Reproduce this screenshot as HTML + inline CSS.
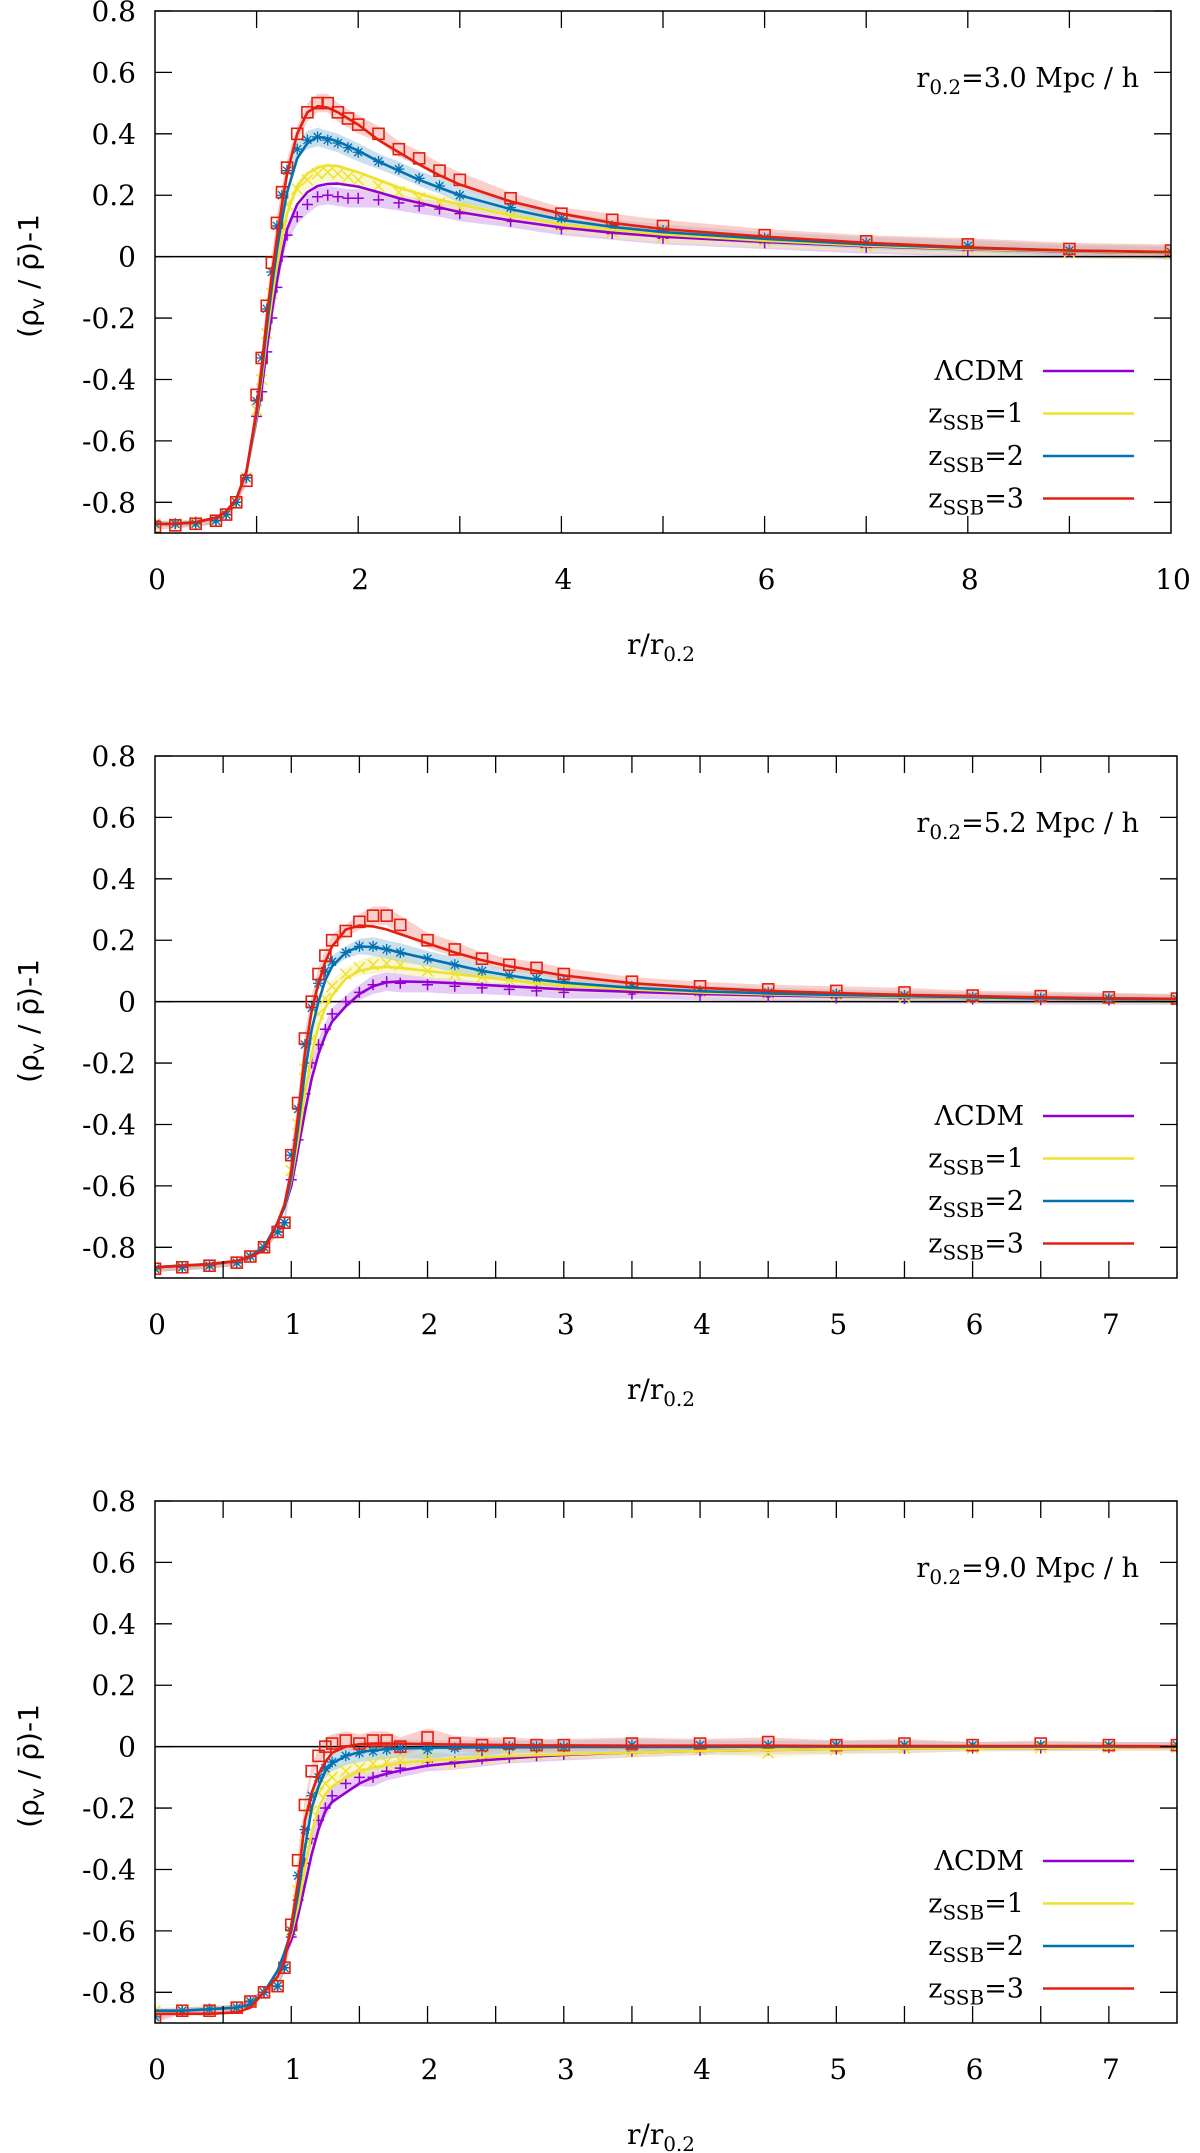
<!DOCTYPE html>
<html><head><meta charset="utf-8"><style>
html,body{margin:0;padding:0;background:#fff;}
svg{display:block;}
</style></head><body>
<svg id="chart" width="1200" height="2153" viewBox="0 0 1200 2153" xmlns="http://www.w3.org/2000/svg"></svg>
<script>
// ---------- data ----------
const xGrid1 = [0,0.2,0.4,0.6,0.7,0.8,0.9,1.0,1.05,1.1,1.15,1.2,1.25,1.3,1.4,1.5,1.6,1.7,1.8,1.9,2.0,2.2,2.4,2.6,2.8,3.0,3.5,4.0,4.5,5,6,7,8,9,10];
const p1LineLCDM = [-0.87,-0.87,-0.865,-0.85,-0.83,-0.79,-0.7,-0.53,-0.43,-0.3,-0.18,-0.08,0.01,0.09,0.17,0.21,0.23,0.237,0.238,0.233,0.228,0.21,0.19,0.175,0.16,0.145,0.118,0.095,0.078,0.065,0.048,0.034,0.024,0.017,0.012];
const p1LineZ1 = [-0.87,-0.87,-0.865,-0.85,-0.83,-0.79,-0.7,-0.52,-0.4,-0.26,-0.14,-0.03,0.06,0.14,0.23,0.27,0.29,0.297,0.295,0.285,0.275,0.25,0.225,0.205,0.185,0.17,0.135,0.105,0.087,0.072,0.052,0.036,0.025,0.018,0.012];
const p1LineZ2 = [-0.87,-0.87,-0.865,-0.85,-0.83,-0.79,-0.7,-0.51,-0.38,-0.23,-0.1,0.02,0.12,0.21,0.32,0.37,0.39,0.385,0.375,0.36,0.345,0.31,0.28,0.25,0.225,0.2,0.155,0.12,0.097,0.08,0.058,0.04,0.028,0.02,0.014];
const p1LineZ3 = [-0.87,-0.87,-0.865,-0.85,-0.83,-0.79,-0.7,-0.5,-0.36,-0.2,-0.06,0.06,0.17,0.27,0.4,0.47,0.49,0.485,0.47,0.45,0.43,0.38,0.34,0.3,0.265,0.235,0.18,0.14,0.11,0.09,0.065,0.045,0.03,0.02,0.015];
const p1PtsLCDM = [-0.87,-0.87,-0.865,-0.86,-0.84,-0.8,-0.72,-0.52,-0.44,-0.31,-0.2,-0.1,0.0,0.07,0.13,0.17,0.195,0.2,0.195,0.19,0.19,0.185,0.175,0.165,0.155,0.14,0.115,0.09,0.075,0.06,0.045,0.03,0.02,0.015,0.01];
const p1PtsZ1 = [-0.87,-0.87,-0.865,-0.86,-0.84,-0.8,-0.72,-0.5,-0.4,-0.25,-0.12,-0.01,0.1,0.17,0.22,0.25,0.27,0.275,0.27,0.26,0.25,0.23,0.21,0.19,0.175,0.16,0.13,0.1,0.08,0.065,0.05,0.035,0.025,0.015,0.01];
const p1PtsZ2 = [-0.87,-0.87,-0.87,-0.86,-0.84,-0.8,-0.72,-0.47,-0.33,-0.17,-0.05,0.1,0.2,0.28,0.35,0.38,0.39,0.38,0.37,0.355,0.34,0.31,0.285,0.255,0.23,0.2,0.16,0.125,0.1,0.085,0.06,0.045,0.035,0.02,0.015];
const p1PtsZ3 = [-0.88,-0.875,-0.87,-0.86,-0.84,-0.8,-0.73,-0.45,-0.33,-0.16,-0.02,0.11,0.21,0.29,0.4,0.47,0.5,0.5,0.47,0.45,0.43,0.4,0.35,0.32,0.28,0.25,0.19,0.14,0.12,0.1,0.07,0.05,0.04,0.025,0.02];
const p1Err = [0.01,0.01,0.01,0.01,0.01,0.01,0.015,0.02,0.02,0.02,0.02,0.02,0.02,0.025,0.025,0.03,0.03,0.03,0.03,0.03,0.03,0.025,0.025,0.025,0.025,0.025,0.02,0.02,0.02,0.02,0.02,0.02,0.02,0.02,0.02];

const xGrid23 = [0,0.2,0.4,0.6,0.7,0.8,0.9,0.95,1.0,1.05,1.1,1.15,1.2,1.25,1.3,1.4,1.5,1.6,1.7,1.8,2.0,2.2,2.4,2.6,2.8,3.0,3.5,4,4.5,5,5.5,6,6.5,7,7.5];
const p2LineLCDM = [-0.865,-0.86,-0.855,-0.845,-0.83,-0.8,-0.72,-0.67,-0.6,-0.48,-0.36,-0.25,-0.17,-0.11,-0.065,-0.015,0.025,0.05,0.063,0.066,0.064,0.06,0.055,0.05,0.045,0.04,0.032,0.025,0.02,0.017,0.014,0.012,0.01,0.008,0.006];
const p2LineZ1 = [-0.865,-0.86,-0.855,-0.845,-0.83,-0.8,-0.72,-0.67,-0.58,-0.45,-0.3,-0.17,-0.08,-0.02,0.02,0.075,0.1,0.11,0.113,0.11,0.1,0.09,0.08,0.07,0.06,0.053,0.04,0.03,0.024,0.019,0.015,0.012,0.01,0.008,0.006];
const p2LineZ2 = [-0.865,-0.86,-0.855,-0.845,-0.83,-0.8,-0.72,-0.67,-0.57,-0.41,-0.23,-0.09,0.0,0.07,0.115,0.16,0.18,0.178,0.17,0.16,0.14,0.12,0.1,0.085,0.072,0.062,0.045,0.034,0.027,0.022,0.018,0.014,0.011,0.009,0.007];
const p2LineZ3 = [-0.865,-0.86,-0.855,-0.845,-0.83,-0.81,-0.72,-0.66,-0.55,-0.37,-0.17,-0.03,0.06,0.13,0.18,0.235,0.248,0.245,0.235,0.22,0.19,0.16,0.135,0.115,0.1,0.085,0.06,0.045,0.035,0.028,0.022,0.018,0.014,0.011,0.009];
const p2PtsLCDM = [-0.87,-0.865,-0.86,-0.85,-0.83,-0.8,-0.75,-0.72,-0.58,-0.45,-0.3,-0.2,-0.14,-0.09,-0.04,0.0,0.03,0.055,0.065,0.06,0.055,0.05,0.045,0.04,0.035,0.03,0.025,0.02,0.015,0.012,0.01,0.008,0.006,0.005,0.005];
const p2PtsZ1 = [-0.87,-0.865,-0.86,-0.85,-0.83,-0.8,-0.75,-0.72,-0.55,-0.4,-0.22,-0.12,-0.04,0.01,0.05,0.09,0.11,0.12,0.125,0.12,0.1,0.09,0.08,0.07,0.06,0.05,0.04,0.03,0.025,0.02,0.015,0.012,0.01,0.008,0.006];
const p2PtsZ2 = [-0.87,-0.865,-0.86,-0.85,-0.83,-0.8,-0.75,-0.72,-0.5,-0.35,-0.14,-0.02,0.06,0.1,0.13,0.16,0.18,0.18,0.17,0.16,0.14,0.12,0.1,0.085,0.075,0.065,0.05,0.035,0.03,0.025,0.02,0.015,0.012,0.01,0.008];
const p2PtsZ3 = [-0.87,-0.865,-0.86,-0.85,-0.83,-0.8,-0.75,-0.72,-0.5,-0.33,-0.12,0.0,0.09,0.15,0.2,0.23,0.26,0.28,0.28,0.25,0.2,0.17,0.14,0.12,0.11,0.09,0.065,0.05,0.04,0.035,0.03,0.02,0.018,0.014,0.01];
const p2Err = [0.01,0.01,0.01,0.01,0.01,0.01,0.01,0.015,0.02,0.02,0.02,0.02,0.02,0.02,0.02,0.02,0.025,0.03,0.03,0.03,0.025,0.025,0.02,0.02,0.02,0.02,0.015,0.015,0.015,0.015,0.015,0.015,0.015,0.015,0.015];

const p3LineLCDM = [-0.86,-0.86,-0.855,-0.85,-0.84,-0.8,-0.73,-0.68,-0.63,-0.55,-0.45,-0.35,-0.27,-0.21,-0.18,-0.15,-0.12,-0.1,-0.088,-0.078,-0.062,-0.053,-0.045,-0.038,-0.032,-0.027,-0.019,-0.014,-0.011,-0.008,-0.006,-0.005,-0.004,-0.003,-0.002];
const p3LineZ1 = [-0.86,-0.86,-0.855,-0.85,-0.84,-0.8,-0.73,-0.67,-0.61,-0.52,-0.4,-0.28,-0.2,-0.155,-0.13,-0.1,-0.08,-0.068,-0.06,-0.053,-0.045,-0.04,-0.035,-0.031,-0.028,-0.025,-0.019,-0.014,-0.011,-0.008,-0.006,-0.005,-0.004,-0.003,-0.002];
const p3LineZ2 = [-0.86,-0.86,-0.855,-0.85,-0.84,-0.8,-0.73,-0.67,-0.6,-0.48,-0.33,-0.2,-0.13,-0.08,-0.055,-0.03,-0.018,-0.012,-0.008,-0.006,-0.004,-0.003,-0.002,-0.002,-0.002,-0.001,-0.001,-0.001,0,0,0,0,0,0,0];
const p3LineZ3 = [-0.87,-0.87,-0.87,-0.865,-0.85,-0.8,-0.75,-0.7,-0.58,-0.44,-0.24,-0.15,-0.09,-0.05,-0.02,0.0,0.008,0.01,0.01,0.01,0.008,0.007,0.006,0.005,0.004,0.004,0.003,0.003,0.003,0.002,0.002,0.002,0.002,0.002,0.001];
const p3PtsLCDM = [-0.86,-0.86,-0.855,-0.85,-0.83,-0.8,-0.78,-0.72,-0.62,-0.5,-0.38,-0.3,-0.24,-0.2,-0.16,-0.12,-0.1,-0.1,-0.08,-0.07,-0.05,-0.05,-0.04,-0.035,-0.03,-0.025,-0.015,-0.012,-0.01,-0.008,-0.006,-0.005,-0.005,-0.003,-0.003];
const p3PtsZ1 = [-0.86,-0.86,-0.855,-0.85,-0.83,-0.8,-0.78,-0.72,-0.6,-0.47,-0.32,-0.21,-0.15,-0.12,-0.1,-0.08,-0.07,-0.055,-0.05,-0.045,-0.04,-0.05,-0.035,-0.03,-0.025,-0.02,-0.015,-0.01,-0.02,-0.01,-0.005,-0.005,-0.003,-0.002,-0.002];
const p3PtsZ2 = [-0.88,-0.86,-0.855,-0.85,-0.83,-0.8,-0.78,-0.72,-0.6,-0.42,-0.27,-0.16,-0.1,-0.07,-0.05,-0.03,-0.02,-0.015,-0.01,-0.005,-0.01,-0.005,-0.005,0,0,0,0.005,0.005,0.005,0.005,0.005,0.005,0.005,0.005,0.005];
const p3PtsZ3 = [-0.89,-0.86,-0.86,-0.85,-0.83,-0.8,-0.78,-0.72,-0.58,-0.37,-0.19,-0.08,-0.03,0.0,0.01,0.02,0.01,0.02,0.02,0.0,0.03,0.01,0.005,0.01,0.005,0.005,0.01,0.01,0.015,0.005,0.01,0.005,0.01,0.005,0.005];
const p3Err = [0.01,0.01,0.01,0.01,0.01,0.01,0.01,0.015,0.02,0.02,0.02,0.02,0.025,0.03,0.03,0.03,0.03,0.03,0.03,0.03,0.03,0.025,0.025,0.02,0.02,0.02,0.02,0.015,0.015,0.015,0.015,0.01,0.01,0.01,0.01];

const yTickLabels = ["-0.8","-0.6","-0.4","-0.2","0","0.2","0.4","0.6","0.8"];
const xTickLabels1 = ["0","2","4","6","8","10"];
const xTickLabels23 = ["0","1","2","3","4","5","6","7"];
const legendLabels = ["ΛCDM","zSSB=1","zSSB=2","zSSB=3"];
const panelLabels = ["3.0","5.2","9.0"];

// ---------- rendering ----------
const NS = "http://www.w3.org/2000/svg";
const svg = document.getElementById("chart");
const COLORS = ["#9400d3","#eee22c","#0072b2","#e51e10"];
const BANDS = ["#cfa0ee","#f5f0a8","#9fc7e0","#f5a9a3"];
const SERIF = '"DejaVu Serif", "Liberation Serif", serif';
const SANS = '"DejaVu Sans", "Liberation Sans", sans-serif';

function mk(tag, attrs, parent) {
  const e = document.createElementNS(NS, tag);
  for (const k in attrs) e.setAttribute(k, attrs[k]);
  (parent || svg).appendChild(e);
  return e;
}

const panels = [
  {top: 11, left: 155, right: 1171, xmax: 10, xTicks: xTickLabels1, xTickStep: 2, minorStep: 1, xs: xGrid1,
   lines: [p1LineLCDM, p1LineZ1, p1LineZ2, p1LineZ3], pts: [p1PtsLCDM, p1PtsZ1, p1PtsZ2, p1PtsZ3], err: p1Err, label: panelLabels[0]},
  {top: 756, left: 155, right: 1177, xmax: 7.5, xTicks: xTickLabels23, xTickStep: 1, minorStep: 0.5, xs: xGrid23,
   lines: [p2LineLCDM, p2LineZ1, p2LineZ2, p2LineZ3], pts: [p2PtsLCDM, p2PtsZ1, p2PtsZ2, p2PtsZ3], err: p2Err, label: panelLabels[1]},
  {top: 1501, left: 155, right: 1177, xmax: 7.5, xTicks: xTickLabels23, xTickStep: 1, minorStep: 0.5, xs: xGrid23,
   lines: [p3LineLCDM, p3LineZ1, p3LineZ2, p3LineZ3], pts: [p3PtsLCDM, p3PtsZ1, p3PtsZ2, p3PtsZ3], err: p3Err, label: panelLabels[2]}
];

const YMIN = -0.9, YMAX = 0.8, PH = 522;

function marker(g, k, px, py, color) {
  const s = 5.5;
  if (k === 0) {
    mk("path", {d: `M${px-s},${py}H${px+s}M${px},${py-s}V${py+s}`, stroke: color, "stroke-width": 1.5, fill: "none"}, g);
  } else if (k === 1) {
    mk("path", {d: `M${px-s},${py-s}L${px+s},${py+s}M${px-s},${py+s}L${px+s},${py-s}`, stroke: color, "stroke-width": 1.5, fill: "none"}, g);
  } else if (k === 2) {
    mk("path", {d: `M${px-s},${py}H${px+s}M${px},${py-s}V${py+s}M${px-4},${py-4}L${px+4},${py+4}M${px-4},${py+4}L${px+4},${py-4}`, stroke: color, "stroke-width": 1.3, fill: "none"}, g);
  } else {
    mk("rect", {x: px-5.5, y: py-5.5, width: 11, height: 11, stroke: color, "stroke-width": 1.6, fill: "none"}, g);
  }
}

panels.forEach((P, pi) => {
  const bottom = P.top + PH;
  const sx = x => P.left + (x / P.xmax) * (P.right - P.left);
  const sy = y => P.top + (YMAX - y) / (YMAX - YMIN) * PH;
  const g = mk("g", {});
  
  

  const clipId = "clip" + pi;
  const cp = mk("clipPath", {id: clipId}, g);
  mk("rect", {x: P.left, y: P.top, width: P.right - P.left, height: PH}, cp);
  const plot = mk("g", {"clip-path": `url(#${clipId})`}, g);
  
  

  for (let s = 0; s < 4; s++) {
    let up = [], dn = [];
    P.xs.forEach((x, i) => {
      up.push(sx(x).toFixed(1) + "," + sy(P.pts[s][i] + P.err[i]).toFixed(1));
      dn.unshift(sx(x).toFixed(1) + "," + sy(P.pts[s][i] - P.err[i]).toFixed(1));
    });
    const band = mk("polygon", {points: up.concat(dn).join(" "), fill: BANDS[s], "fill-opacity": 0.55, stroke: "none"}, plot);
    
    
  }
  mk("line", {x1: P.left, x2: P.right, y1: sy(0), y2: sy(0), stroke: "#000", "stroke-width": 1.5}, plot);
  for (let s = 0; s < 4; s++) {
    const mg = mk("g", {}, plot);
    
    
    P.xs.forEach((x, i) => marker(mg, s, sx(x), sy(P.pts[s][i]), COLORS[s]));
  }
  for (let s = 0; s < 4; s++) {
    const d = P.xs.map((x, i) => (i ? "L" : "M") + sx(x).toFixed(1) + "," + sy(P.lines[s][i]).toFixed(1)).join("");
    const ln = mk("path", {d: d, stroke: COLORS[s], "stroke-width": 2.6, fill: "none", "stroke-linejoin": "round"}, plot);
    
    
  }

  const fr = mk("rect", {x: P.left, y: P.top, width: P.right - P.left, height: PH, fill: "none", stroke: "#000", "stroke-width": 1.5}, g);
  
  

  yTickLabels.forEach(lab => {
    const v = parseFloat(lab), y = sy(v);
    mk("line", {x1: P.left, x2: P.left + 17, y1: y, y2: y, stroke: "#000", "stroke-width": 1.3}, g);
    mk("line", {x1: P.right - 17, x2: P.right, y1: y, y2: y, stroke: "#000", "stroke-width": 1.3}, g);
    const t = mk("text", {x: 136, y: y + 10, "text-anchor": "end", "font-family": SERIF, "font-size": 28}, g);
    t.textContent = lab;
    
    
  });
  for (let x = P.minorStep; x < P.xmax - 1e-6; x += P.minorStep) {
    mk("line", {x1: sx(x), x2: sx(x), y1: bottom, y2: bottom - 17, stroke: "#000", "stroke-width": 1.3}, g);
    mk("line", {x1: sx(x), x2: sx(x), y1: P.top, y2: P.top + 17, stroke: "#000", "stroke-width": 1.3}, g);
  }
  P.xTicks.forEach(lab => {
    const v = parseFloat(lab);
    const t = mk("text", {x: sx(v) + 2, y: bottom + 56, "text-anchor": "middle", "font-family": SERIF, "font-size": 28}, g);
    t.textContent = lab;
    
    
  });

  const xt = mk("text", {x: 627, y: bottom + 121, "text-anchor": "start", "font-family": SERIF, "font-size": 28}, g);
  
  
  xt.appendChild(document.createTextNode("r/r"));
  const xs2 = mk("tspan", {"font-size": 20, dy: 7}, xt); xs2.textContent = "0.2";

  const yc = P.top + PH / 2 + 4;
  const yt = mk("text", {x: 0, y: 0, "text-anchor": "middle", "font-family": SANS, "font-size": 28, transform: `translate(38,${yc}) rotate(-90)`}, g);
  
  
  yt.appendChild(document.createTextNode("(ρ"));
  const ys = mk("tspan", {"font-size": 19, dy: 6}, yt); ys.textContent = "v";
  const ys2 = mk("tspan", {dy: -6}, yt); ys2.textContent = " / ρ\u0304)-1";

  const an = mk("text", {x: 1139, y: P.top + 76, "text-anchor": "end", "font-family": SERIF, "font-size": 27}, g);
  
  
  an.appendChild(document.createTextNode("r"));
  const a1 = mk("tspan", {"font-size": 20, dy: 7}, an); a1.textContent = "0.2";
  const a2 = mk("tspan", {dy: -7}, an); a2.textContent = "=" + P.label + " Mpc / h";

  const lg = mk("g", {}, g);
  
  
  legendLabels.forEach((lab, s) => {
    const ly = P.top + 360 + s * 42.5;
    const e = mk("g", {}, lg);
    
    
    mk("line", {x1: 1043, x2: 1134, y1: ly, y2: ly, stroke: COLORS[s], "stroke-width": 2.6}, e);
    const t = mk("text", {x: 1024, y: ly + 9, "text-anchor": "end", "font-family": SERIF, "font-size": 27}, e);
    if (s === 0) { t.textContent = lab; }
    else {
      t.appendChild(document.createTextNode("z"));
      const sub = mk("tspan", {"font-size": 20, dy: 7}, t); sub.textContent = "SSB";
      const rest = mk("tspan", {dy: -7}, t); rest.textContent = lab.slice(4);
    }
  });
});
</script>
</body></html>
